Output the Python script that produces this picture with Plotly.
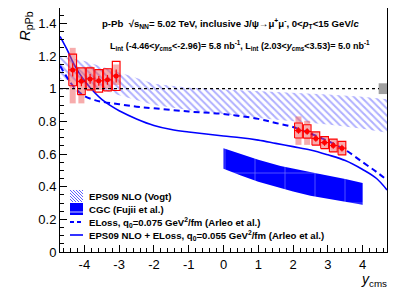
import plotly.graph_objects as go

# ---------------- data ----------------
# ALICE data, backward rapidity
y_back = [-4.335, -4.085, -3.835, -3.585, -3.335, -3.085]
r_back = [1.115, 1.045, 1.060, 1.048, 1.054, 1.078]
stat_back = [0.040, 0.030, 0.030, 0.030, 0.030, 0.040]
sys_back = [0.097, 0.082, 0.067, 0.069, 0.068, 0.089]
corr_back_up = [0.135, 0.080, 0.075, 0.070, 0.070, 0.070]
corr_back_dn = [0.205, 0.135, 0.075, 0.055, 0.055, 0.055]

# ALICE data, forward rapidity
y_fwd = [2.155, 2.405, 2.655, 2.905, 3.155, 3.405]
r_fwd = [0.744, 0.738, 0.695, 0.670, 0.652, 0.636]
stat_fwd = [0.020, 0.020, 0.020, 0.020, 0.020, 0.020]
sys_fwd = [0.046, 0.041, 0.041, 0.037, 0.039, 0.041]
corr_fwd_up = [0.086, 0.065, 0.040, 0.040, 0.040, 0.040]
corr_fwd_dn = [0.088, 0.082, 0.040, 0.040, 0.040, 0.040]
bin_half = 0.125
box_half = 0.11

# global uncertainty
glob_x = [4.59]
glob_r = [1.0]
glob_unc = [0.033]

# EPS09 NLO (Vogt) band
eps_x = [-4.7, -4.0, -3.0, -2.0, -1.0, 0.0, 1.0, 2.0, 3.0, 4.0, 4.7]
eps_hi = [1.20, 1.17, 1.10, 1.03, 1.005, 0.995, 0.985, 0.975, 0.965, 0.95, 0.935]
eps_lo = [1.06, 1.03, 0.96, 0.90, 0.87, 0.845, 0.82, 0.80, 0.78, 0.755, 0.73]

# CGC (Fujii et al.) band
cgc_x = [0.0, 0.5, 1.0, 1.64, 2.0, 2.5, 2.88, 3.5, 4.0]
cgc_hi = [0.636, 0.600, 0.565, 0.527, 0.510, 0.488, 0.473, 0.447, 0.422]
cgc_lo = [0.510, 0.468, 0.430, 0.390, 0.370, 0.345, 0.330, 0.308, 0.290]

# ELoss (Arleo et al.)
el_x = [-4.7, -4.5, -4.3, -4.0, -3.7, -3.5, -3.0, -2.5, -2.0, -1.0, 0.0, 1.0,
        1.5, 2.0, 2.5, 3.0, 3.5, 4.0, 4.4, 4.7]
el_r = [1.14, 1.07, 1.01, 0.955, 0.93, 0.92, 0.905, 0.89, 0.88, 0.86, 0.845,
        0.815, 0.79, 0.765, 0.725, 0.68, 0.625, 0.55, 0.49, 0.44]

# EPS09 NLO + ELoss (Arleo et al.)
ee_x = [-4.7, -4.5, -4.25, -4.0, -3.7, -3.5, -3.2, -3.0, -2.5, -2.0, -1.5, -1.0,
        -0.5, 0.0, 0.5, 1.0, 1.5, 2.0, 2.5, 3.0, 3.5, 4.0, 4.4, 4.7]
ee_r = [1.32, 1.24, 1.13, 1.05, 0.975, 0.935, 0.89, 0.865, 0.815, 0.775, 0.75,
        0.735, 0.722, 0.71, 0.70, 0.685, 0.665, 0.645, 0.625, 0.595, 0.56, 0.505,
        0.45, 0.38]

x_ticks = [-4, -3, -2, -1, 0, 1, 2, 3, 4]
x_ticktext = ["-4", "-3", "-2", "-1", "0", "1", "2", "3", "4"]
y_ticks = [0, 0.2, 0.4, 0.6, 0.8, 1.0, 1.2, 1.4]
y_ticktext = ["0", "0.2", "0.4", "0.6", "0.8", "1", "1.2", "1.4"]

legend_labels = [
    "EPS09 NLO (Vogt)",
    "CGC (Fujii et al.)",
    "ELoss, q<sub>0</sub>=0.075 GeV<sup>2</sup>/fm (Arleo et al.)",
    "EPS09 NLO + ELoss, q<sub>0</sub>=0.055 GeV<sup>2</sup>/fm (Arleo et al.)",
]

FONT = "Liberation Sans, Arial, sans-serif"
RED = "#ff0000"
PINK = "rgba(240,90,90,0.5)"
BLUE = "#0000ff"
HATCH = "#6060ff"

# page geometry (the page body adds an 8px offset)
W, H = 391, 282
ML, MR, MT, MB = 52, 12, 0, 38
OFF = 8
PX0, PX1 = OFF + ML, OFF + W - MR
PY0, PY1 = OFF + MT, OFF + H - MB


def px(p):
    return (p - PX0) / (PX1 - PX0)


def py(p):
    return (PY1 - p) / (PY1 - PY0)


fig = go.Figure()

# EPS09 hatched band
fig.add_trace(go.Scatter(
    x=eps_x + eps_x[::-1], y=eps_hi + eps_lo[::-1],
    fill="toself", mode="lines", line=dict(width=0, color="rgba(0,0,0,0)"),
    fillcolor="rgba(0,0,0,0)",
    fillpattern=dict(shape="\\", size=5, solidity=0.4, fgcolor=HATCH,
                     bgcolor="rgba(255,255,255,0)"),
    name="EPS09 NLO (Vogt)", hoverinfo="skip"))

# CGC band
fig.add_trace(go.Scatter(
    x=cgc_x + cgc_x[::-1], y=cgc_hi + cgc_lo[::-1],
    fill="toself", mode="lines", line=dict(width=0, color=BLUE),
    fillcolor=BLUE,
    fillpattern=dict(shape="+", size=30, solidity=0.05, fgcolor="#d0d0ff",
                     bgcolor=BLUE),
    name="CGC (Fujii et al.)", hoverinfo="skip"))

# ELoss dashed
fig.add_trace(go.Scatter(
    x=el_x, y=el_r, mode="lines",
    line=dict(color=BLUE, width=2, dash="6px,4px", shape="spline"),
    name=legend_labels[2]))

# EPS09 + ELoss solid
fig.add_trace(go.Scatter(
    x=ee_x, y=ee_r, mode="lines", line=dict(color=BLUE, width=1.6, shape="spline"),
    name=legend_labels[3]))

# global uncertainty box
fig.add_trace(go.Scatter(
    x=glob_x, y=glob_r, mode="markers", marker=dict(size=1, color="rgba(0,0,0,0)"),
    error_y=dict(type="data", array=glob_unc, thickness=9, width=0, color="#a0a0a0"),
    hoverinfo="skip", cliponaxis=False))


def add_data(xs, rs, stat, sys, cup, cdn):
    # correlated syst (filled)
    fig.add_trace(go.Scatter(
        x=xs, y=rs, mode="markers", marker=dict(size=1, color="rgba(0,0,0,0)"),
        error_y=dict(type="data", symmetric=False, array=cup, arrayminus=cdn,
                     thickness=6, width=0, color=PINK),
        hoverinfo="skip"))
    # uncorrelated syst (open boxes)
    bx, by = [], []
    for xc, rc, s in zip(xs, rs, sys):
        bx += [xc - box_half, xc + box_half, xc + box_half, xc - box_half, xc - box_half, None]
        by += [rc - s, rc - s, rc + s, rc + s, rc - s, None]
    fig.add_trace(go.Scatter(x=bx, y=by, mode="lines", line=dict(color=RED, width=1.2),
                             hoverinfo="skip"))
    # points with stat errors
    fig.add_trace(go.Scatter(
        x=xs, y=rs, mode="markers", marker=dict(size=5, color=RED),
        error_y=dict(type="data", array=stat, thickness=1.2, width=0, color=RED),
        error_x=dict(type="constant", value=bin_half, thickness=1.2, width=0, color=RED)))


add_data(y_back, r_back, stat_back, sys_back, corr_back_up, corr_back_dn)
add_data(y_fwd, r_fwd, stat_fwd, sys_fwd, corr_fwd_up, corr_fwd_dn)

# reference line at 1
fig.add_shape(type="line", xref="x", yref="y", x0=-4.7, x1=4.47, y0=1, y1=1,
              line=dict(color="black", width=1.3, dash="dot"))

fig.update_xaxes(range=[-4.7, 4.7], tickvals=x_ticks, ticktext=x_ticktext,
                 ticks="inside", ticklen=7, tickwidth=1, tickcolor="black",
                 showline=True, linecolor="black", linewidth=1, mirror=True,
                 showgrid=False, zeroline=False,
                 tickfont=dict(family=FONT, size=13, color="black"),
                 minor=dict(dtick=0.2, ticks="inside", ticklen=4, tickcolor="black", showgrid=False))
fig.update_yaxes(range=[0, 1.494], tickvals=y_ticks, ticktext=y_ticktext,
                 ticks="inside", ticklen=7, tickwidth=1, tickcolor="black",
                 showline=True, linecolor="black", linewidth=1, mirror=True,
                 showgrid=False, zeroline=False,
                 tickfont=dict(family=FONT, size=13, color="black"),
                 minor=dict(dtick=0.05, ticks="inside", ticklen=4, tickcolor="black", showgrid=False))

# header texts
fig.add_annotation(xref="paper", yref="paper", x=px(100), y=py(23), xanchor="left", yanchor="middle",
                   showarrow=False, font=dict(family=FONT, size=9.6, color="black"),
                   text="<b>p-Pb\u00a0 √s<sub>NN</sub>= 5.02 TeV, inclusive J/ψ→μ<sup>+</sup>μ<sup>-</sup>, 0<<i>p</i><sub>T</sub><15 GeV/<i>c</i></b>")
fig.add_annotation(xref="paper", yref="paper", x=px(108), y=py(45), xanchor="left", yanchor="middle",
                   showarrow=False, font=dict(family=FONT, size=9, color="black"),
                   text="<b>L<sub>int</sub> (-4.46<<i>y</i><sub>cms</sub><-2.96)= 5.8 nb<sup>-1</sup>, L<sub>int</sub> (2.03<<i>y</i><sub>cms</sub><3.53)= 5.0 nb<sup>-1</sup></b>")
# axis titles
fig.add_annotation(xref="paper", yref="paper", x=px(389), y=py(269), xanchor="right", yanchor="top",
                   showarrow=False, font=dict(family=FONT, size=14, color="black"),
                   text="<i>y</i><sub>cms</sub>")
fig.add_annotation(xref="paper", yref="paper", x=px(26), y=py(9), xanchor="center", yanchor="top",
                   showarrow=False, textangle=-90, font=dict(family=FONT, size=15, color="black"),
                   text="<i>R</i><sub>pPb</sub>")

# custom legend
leg_y = [196, 209, 222, 235]
ix0, ix1, tx = 70, 83, 87
for lab, yy in zip(legend_labels, leg_y):
    fig.add_annotation(xref="paper", yref="paper", x=px(tx), y=py(yy), xanchor="left", yanchor="middle",
                       showarrow=False, font=dict(family=FONT, size=9.6, color="black"),
                       text="<b>" + lab + "</b>")
# hatch icon
t0, t1 = leg_y[0] - 6, leg_y[0] + 6
segs = []
c = ix0 - t1
while c <= ix1 - t0:
    xs_ = max(ix0, t0 + c)
    xe_ = min(ix1, t1 + c)
    if xs_ < xe_:
        segs.append("M%.5f,%.5f L%.5f,%.5f" % (px(xs_), py(xs_ - c), px(xe_), py(xe_ - c)))
    c += 3
fig.add_shape(type="path", xref="paper", yref="paper", path=" ".join(segs),
              line=dict(color=HATCH, width=1))
# CGC icon
fig.add_shape(type="rect", xref="paper", yref="paper", x0=px(ix0), x1=px(ix1),
              y0=py(leg_y[1] + 6), y1=py(leg_y[1] - 6), fillcolor=BLUE, line=dict(width=0))
fig.add_shape(type="line", xref="paper", yref="paper", x0=px(ix0), x1=px(ix1),
              y0=py(leg_y[1] + 3), y1=py(leg_y[1] + 3), line=dict(color="#d0d0ff", width=1))
# dashed icon
fig.add_shape(type="line", xref="paper", yref="paper", x0=px(ix0), x1=px(ix1),
              y0=py(leg_y[2]), y1=py(leg_y[2]), line=dict(color=BLUE, width=2, dash="4px,3px"))
# solid icon
fig.add_shape(type="line", xref="paper", yref="paper", x0=px(ix0), x1=px(ix1),
              y0=py(leg_y[3]), y1=py(leg_y[3]), line=dict(color=BLUE, width=1.6))

fig.update_layout(
    width=W, height=H,
    margin=dict(l=ML, r=MR, t=MT, b=MB, pad=0),
    paper_bgcolor="white", plot_bgcolor="white",
    showlegend=False,
)

fig.write_html("out.html")
